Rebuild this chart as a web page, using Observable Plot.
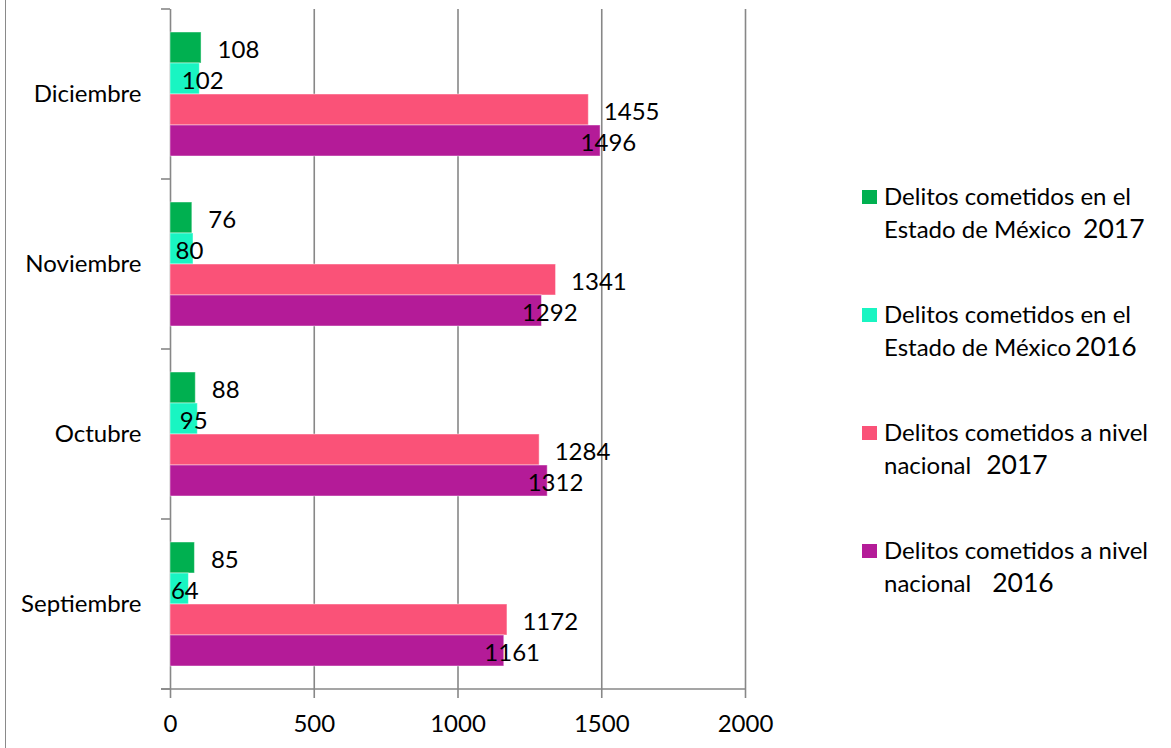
<!DOCTYPE html>
<html>
<head>
<meta charset="utf-8">
<script src="https://cdn.jsdelivr.net/npm/d3@7"></script>
<script src="https://cdn.jsdelivr.net/npm/@observablehq/plot@0.6"></script>
<style>
  html, body { margin: 0; padding: 0; background: #fff; }
  #wrap { position: relative; width: 1171px; height: 748px; overflow: hidden; font-family: Lato, "Open Sans", sans-serif; }
  #border { position: absolute; left: 5px; top: 0; width: 0; height: 748px; border-left: 1.5px solid #8a8a8a; }
  #legend { position: absolute; left: 862px; top: 0; }
  .item { position: absolute; left: 0; width: 305px; font-size: 24px; line-height: 32px; color: #000; white-space: nowrap; }
  .sw { position: absolute; left: 0; top: 10px; width: 15px; height: 14px; }
  .txt { position: absolute; left: 22px; top: 0; }
  .yr { font-size: 26.5px; }
</style>
</head>
<body>
<div id="wrap"><div id="border"></div><div id="legend"></div></div>
<script>
// ---- data ----
const months = ["Diciembre", "Noviembre", "Octubre", "Septiembre"];
const seriesKeys = ["estado2017", "estado2016", "nacional2017", "nacional2016"];
const seriesLine1 = ["Delitos cometidos en el", "Delitos cometidos en el", "Delitos cometidos a nivel", "Delitos cometidos a nivel"];
const seriesLine2 = ["Estado de México", "Estado de México", "nacional", "nacional"];
const seriesYears = ["2017", "2016", "2017", "2016"];
const estado2017 = [108, 76, 88, 85];
const estado2016 = [102, 80, 95, 64];
const nacional2017 = [1455, 1341, 1284, 1172];
const nacional2016 = [1496, 1292, 1312, 1161];
const xTicks = [0, 500, 1000, 1500, 2000];
const colors = ["#00b050", "#19f5c2", "#fa5278", "#b41b98"];

const valuesBySeries = [estado2017, estado2016, nacional2017, nacional2016];
const data = [];
seriesKeys.forEach((s, si) => months.forEach((m, mi) => data.push({ series: s, month: m, value: valuesBySeries[si][mi] })));

const gray = "#878787";
const labelOpts = [
  { textAnchor: "start", dx: 16 },
  { textAnchor: "start", dx: -18 },
  { textAnchor: "start", dx: 15 },
  { textAnchor: "start", dx: -20 }
];

const plot = Plot.plot({
  width: 1171,
  height: 748,
  marginLeft: 170,
  marginRight: 426,
  marginTop: 9,
  marginBottom: 59,
  style: { fontFamily: "Lato, 'Open Sans', sans-serif", fontSize: "24px", color: "#000", background: "transparent", overflow: "visible" },
  x: { domain: [0, 2000] },
  y: { domain: seriesKeys, paddingInner: 0, paddingOuter: 0.74, axis: null },
  fy: { domain: months, padding: 0, label: null },
  color: { domain: seriesKeys, range: colors },
  marks: [
    Plot.gridX(xTicks, { stroke: gray, strokeOpacity: 1, strokeWidth: 1.6 }),
    Plot.barX(data, { x: "value", y: "series", fy: "month", fill: "series", stroke: "#ffffff", strokeOpacity: 0.45, strokeWidth: 1 }),
    ...seriesKeys.map((s, i) => Plot.text(data.filter(d => d.series === s), {
      x: "value", y: "series", fy: "month", text: d => String(d.value),
      fill: "#000", fontSize: 24, dy: 2, ...labelOpts[i]
    })),
    Plot.axisX(xTicks, { tickSize: 9, tickPadding: 16, stroke: gray, strokeWidth: 1.6, strokeOpacity: 1, fill: "#000", fontSize: 24, label: null, tickFormat: d => String(d) }),
    Plot.axisFy({ anchor: "left", tickSize: 0, tickPadding: 29, fontSize: 24, fill: "#000", label: null })
  ]
});

// left category tick marks and bottom axis line, positioned from the library's own scales
const fyS = plot.scale("fy");
const xS = plot.scale("x");
const x0 = xS.apply(0), x1 = xS.apply(2000);
const bounds = months.map(m => fyS.apply(m));
bounds.push(fyS.apply(months[months.length - 1]) + fyS.bandwidth);
const svg = d3.select(plot);
const g = svg.append("g").attr("stroke", gray).attr("stroke-width", 1.6);
bounds.forEach(b => g.append("line").attr("x1", x0 - 9).attr("x2", x0).attr("y1", b).attr("y2", b));
const yb = bounds[bounds.length - 1];
g.append("line").attr("x1", x0 - 9).attr("x2", x1).attr("y1", yb).attr("y2", yb);

document.getElementById("wrap").appendChild(plot);
plot.style.position = "absolute";
plot.style.left = "0";
plot.style.top = "0";

// legend
const legend = d3.select("#legend");
seriesKeys.forEach((s, i) => {
  const it = legend.append("div").attr("class", "item").style("top", (180 + i * 118) + "px");
  it.append("div").attr("class", "sw").style("background", colors[i]);
  const t = it.append("div").attr("class", "txt");
  t.append("span").text(seriesLine1[i]);
  t.append("br");
  t.append("span").text(seriesLine2[i]);
  t.append("span").attr("class", "yr").style("margin-left", ["12px", "4px", "15px", "21px"][i]).text(seriesYears[i]);
});
</script>
</body>
</html>
